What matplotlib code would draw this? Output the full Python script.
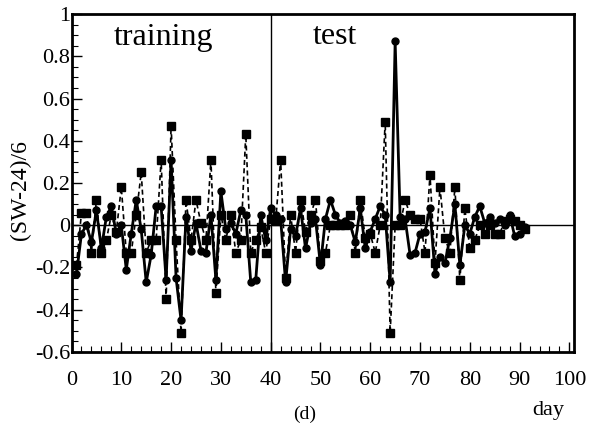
import matplotlib
matplotlib.use("Agg")
import matplotlib.pyplot as plt
from matplotlib.ticker import MultipleLocator

days = list(range(1, 92))
solid_vals = [
    -0.23, -0.04, 0.00, -0.08, 0.07, -0.11, 0.04, 0.09, -0.04, 0.00,
    -0.21, -0.04, 0.12, -0.02, -0.27, -0.14, 0.09, 0.09, -0.26, 0.31,
    -0.25, -0.45, 0.04, -0.12, 0.01, -0.12, -0.13, 0.05, -0.26, 0.16,
    -0.02, 0.01, -0.04, 0.07, 0.05, -0.27, -0.26, 0.05, -0.07, 0.08,
    0.05, 0.03, -0.27, -0.02, -0.05, 0.08, -0.11, 0.01, 0.03, -0.19,
    0.03, 0.12, 0.05, 0.01, 0.02, 0.00, -0.08, 0.08, -0.11, -0.03,
    0.03, 0.09, 0.05, -0.27, 0.87, 0.04, 0.03, -0.14, -0.13, -0.04,
    -0.03, 0.08, -0.23, -0.15, -0.18, -0.06, 0.10, -0.19, 0.00, -0.04,
    0.04, 0.09, 0.01, 0.04, 0.01, 0.03, 0.00, 0.05, -0.05, -0.04,
    -0.01,
]
dashed_vals = [
    -0.19, 0.06, 0.06, -0.13, 0.12, -0.13, -0.07, 0.05, -0.03, 0.18,
    -0.13, -0.13, 0.05, 0.25, -0.13, -0.07, -0.07, 0.31, -0.35, 0.47,
    -0.07, -0.51, 0.12, -0.07, 0.12, 0.01, -0.07, 0.31, -0.32, 0.05,
    -0.07, 0.05, -0.13, -0.07, 0.43, -0.13, -0.07, -0.01, -0.13, 0.03,
    0.02, 0.31, -0.25, 0.05, -0.13, 0.12, -0.03, 0.05, 0.12, -0.17,
    -0.13, 0.00, 0.00, 0.00, 0.00, 0.05, -0.13, 0.12, -0.06, -0.04,
    -0.13, 0.00, 0.49, -0.51, 0.00, 0.00, 0.12, 0.05, 0.03, 0.03,
    -0.13, 0.24, -0.18, 0.18, -0.06, -0.13, 0.18, -0.26, 0.08, -0.11,
    -0.07, 0.00, -0.04, 0.00, -0.04, -0.04, 0.02, 0.03, 0.02, 0.00,
    -0.02,
]
xticks = [0, 10, 20, 30, 40, 50, 60, 70, 80, 90, 100]
yticks = [-0.6, -0.4, -0.2, 0, 0.2, 0.4, 0.6, 0.8, 1]
ytick_labels = ["-0.6", "-0.4", "-0.2", "0", "0.2", "0.4", "0.6", "0.8", "1"]

plt.rcParams['font.family'] = ['Liberation Serif', 'DejaVu Serif']

fig = plt.figure(figsize=(5.93, 4.25), dpi=100)
ax = fig.add_axes([0.1206, 0.1718, 0.848, 0.7952])

ax.plot(days, dashed_vals, color='black', linestyle=(0, (3, 2)), linewidth=1.2,
        marker='s', markersize=5.5, zorder=3)
ax.plot(days, solid_vals, color='black', linestyle='-', linewidth=2.0,
        marker='o', markersize=5, zorder=4)

ax.axhline(0, color='black', linewidth=1.0, zorder=2)
ax.axvline(40, color='black', linewidth=1.0, zorder=2)

ax.set_xlim(0, 101)
ax.set_ylim(-0.6, 1)
ax.set_xticks(xticks)
ax.set_yticks(yticks)
ax.set_yticklabels(ytick_labels)
ax.xaxis.set_minor_locator(MultipleLocator(2))
ax.yaxis.set_minor_locator(MultipleLocator(0.05))
ax.tick_params(which='both', direction='in', top=False, right=False, labelsize=16)
ax.tick_params(which='major', length=7, width=1)
ax.tick_params(which='minor', length=4, width=0.8)
ax.tick_params(axis='x', pad=14)
ax.tick_params(axis='y', pad=1)
for s in ax.spines.values():
    s.set_linewidth(2.0)

ax.text(164 / 593, 1 - 37 / 425, "training", transform=fig.transFigure, fontsize=23,
        ha='center', va='center')
ax.text(335 / 593, 1 - 37 / 425, "test", transform=fig.transFigure, fontsize=23,
        ha='center', va='center')

fig.text(20 / 593, 1 - 190 / 425, "(SW-24)/6", rotation=90, fontsize=17,
         ha='center', va='center')
fig.text(548 / 593, 1 - 410 / 425, "day", fontsize=16, ha='center', va='center')
fig.text(305 / 593, 2 / 425, "(d)", fontsize=14, ha='center', va='bottom')

fig.savefig("out.png", dpi=100)
